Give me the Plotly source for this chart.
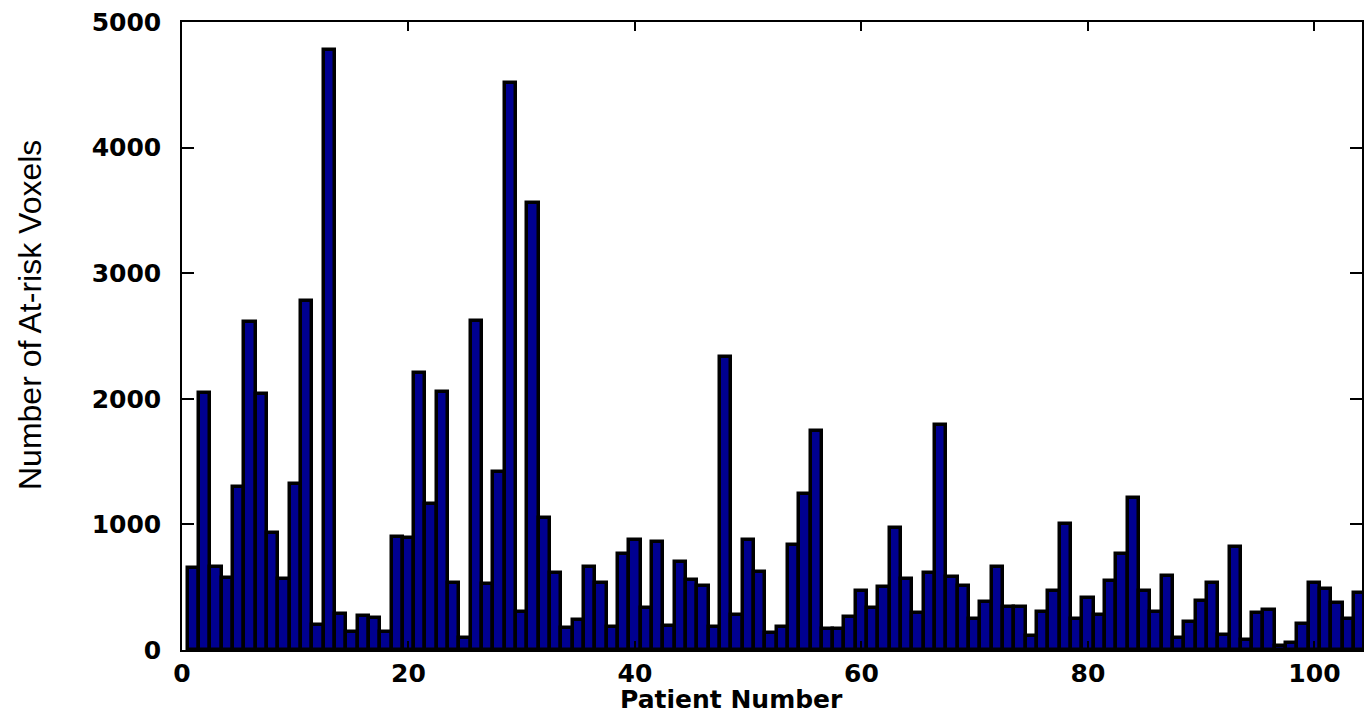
import plotly.graph_objects as go

patients = list(range(1, 105))
voxels = [
    650, 2045, 660, 570, 1300, 2615, 2035, 935, 567, 1325,
    2780, 200, 4780, 290, 145, 270, 256, 145, 903, 889,
    2204, 1159, 2055, 533, 97, 2616, 522, 1415, 4515, 301,
    3560, 1052, 612, 173, 235, 661, 533, 180, 761, 879,
    336, 858, 194, 702, 560, 512, 180, 2335, 280, 879,
    623, 135, 180, 834, 1246, 1744, 170, 170, 260, 467,
    336, 502, 969, 567, 291, 612, 1789, 578, 512, 246,
    381, 661, 346, 346, 111, 301, 467, 1003, 246, 412,
    280, 550, 761, 1211, 467, 301, 592, 93, 221, 391,
    533, 121, 823, 83, 291, 322, 31, 55, 211, 533,
    488, 377, 246, 457,
]
x_ticks = [0, 20, 40, 60, 80, 100]
y_ticks = [0, 1000, 2000, 3000, 4000, 5000]

fig = go.Figure(go.Bar(
    x=patients, y=voxels,
    marker=dict(color="#000090", line=dict(color="black", width=3.5)),
    width=1.0,
))

tickfont = dict(family="DejaVu Sans", size=25, color="black", weight="bold")
fig.update_layout(
    width=1366, height=717,
    margin=dict(l=182, r=4, t=22, b=67, autoexpand=False),
    plot_bgcolor="white", paper_bgcolor="white",
    showlegend=False, bargap=0,
    xaxis=dict(range=[0, 104.2], tickvals=x_ticks, ticks="inside", ticklen=9,
               tickwidth=1.5, tickcolor="black", showline=True, linecolor="black",
               linewidth=1.5, mirror="ticks", showgrid=False, zeroline=False,
               tickfont=tickfont, ticklabelstandoff=0, automargin=False),
    yaxis=dict(range=[0, 5000], tickvals=y_ticks, ticks="inside", ticklen=12,
               tickwidth=1.5, tickcolor="black", showline=True, linecolor="black",
               linewidth=1.5, mirror="ticks", showgrid=False, zeroline=False,
               tickfont=tickfont, ticklabelstandoff=14, automargin=False),
    annotations=[
        dict(text="Patient Number", xref="paper", yref="paper",
             x=(731 - 182) / 1180, y=-(699 - 650) / 628, xanchor="center", yanchor="middle",
             showarrow=False, font=dict(family="DejaVu Sans", size=25, color="black", weight="bold")),
        dict(text="Number of At-risk Voxels", xref="paper", yref="paper",
             x=-(182 - 30) / 1180, y=(650 - 315) / 628, xanchor="center", yanchor="middle",
             textangle=-90, showarrow=False,
             font=dict(family="Liberation Sans", size=32, color="black")),
    ],
)

fig.write_html("out.html", config={"displayModeBar": False},
               post_script="document.body.style.margin='0';document.body.style.overflow='hidden';")
